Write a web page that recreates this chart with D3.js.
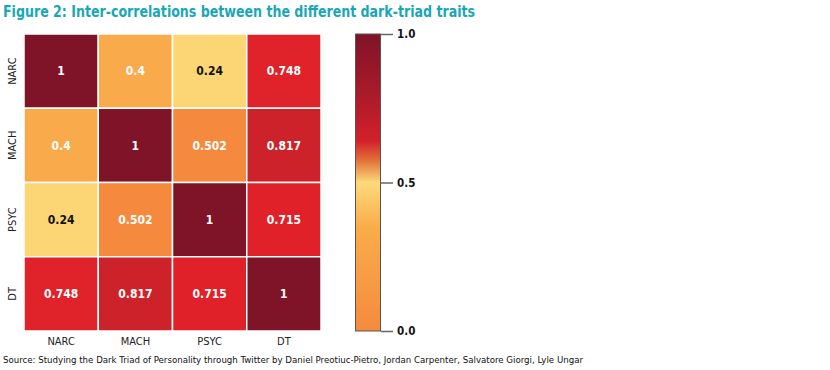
<!DOCTYPE html>
<html>
<head>
<meta charset="utf-8">
<script src="https://cdn.jsdelivr.net/npm/d3@7"></script>
<style>
  body { margin: 0; background: #fff; }
  svg text { font-family: "DejaVu Sans Condensed", "Roboto", sans-serif; }
</style>
</head>
<body>
<div id="chart"></div>
<script>
// Data
var traits = ["NARC", "MACH", "PSYC", "DT"];
var corrValues = [
    [1, 0.4, 0.24, 0.748],
    [0.4, 1, 0.502, 0.817],
    [0.24, 0.502, 1, 0.715],
    [0.748, 0.817, 0.715, 1]
];
var barTicks = [0.0, 0.5, 1.0];

var width = 830, height = 370;

var svg = d3.select("#chart")
    .append("svg")
    .attr("width", width)
    .attr("height", height);

// title
svg.append("text")
    .attr("x", 3)
    .attr("y", 17)
    .attr("fill", "#19a7b6")
    .attr("font-weight", "bold")
    .attr("font-size", 16)
    .attr("textLength", 472)
    .attr("lengthAdjust", "spacingAndGlyphs")
    .text("Figure 2: Inter-correlations between the different dark-triad traits");

// scales
var xScale = d3.scaleBand().domain(traits).range([24, 321]);
var yScale = d3.scaleBand().domain(traits).range([34, 331]);

var color = d3.scaleLinear()
    .domain([0.2, 0.4, 0.5, 0.7, 0.75, 0.82, 1])
    .range(["#fde07e", "#f9aa4a", "#f58b3e", "#e02129", "#e0222a", "#cc2229", "#7f1327"]);

// cells
var cells = [];
corrValues.forEach(function (row, i) {
    row.forEach(function (v, j) {
        cells.push({row: traits[i], col: traits[j], value: v});
    });
});

var cell = svg.append("g").selectAll("g")
    .data(cells)
    .enter().append("g");

cell.append("rect")
    .attr("x", d => xScale(d.col))
    .attr("y", d => yScale(d.row))
    .attr("width", xScale.bandwidth())
    .attr("height", yScale.bandwidth())
    .attr("fill", d => color(d.value))
    .attr("stroke", "#fff")
    .attr("stroke-width", 1.5);

cell.append("text")
    .attr("x", d => xScale(d.col) + xScale.bandwidth() / 2)
    .attr("y", d => yScale(d.row) + yScale.bandwidth() / 2)
    .attr("dy", "0.35em")
    .attr("text-anchor", "middle")
    .attr("font-size", 12)
    .attr("font-weight", "bold")
    .attr("fill", d => d.value < 0.3 ? "#111" : "#fff")
    .text(d => d.value);

// x-axis labels
var xAxis = svg.append("g")
    .attr("transform", "translate(0,331)")
    .call(d3.axisBottom(xScale).tickSize(0).tickPadding(6));
xAxis.select(".domain").remove();
xAxis.selectAll("text")
    .attr("font-size", 11)
    .attr("fill", "#222")
    .style("font-family", "\"DejaVu Sans Condensed\", sans-serif");

// y-axis labels (rotated)
svg.append("g").selectAll("text")
    .data(traits)
    .enter().append("text")
    .attr("transform", d => "translate(16," + (yScale(d) + yScale.bandwidth() / 2) + ") rotate(-90)")
    .attr("text-anchor", "middle")
    .attr("font-size", 11)
    .attr("fill", "#222")
    .text(d => d);

// colorbar
var barScale = d3.scaleLinear().domain([0, 1]).range([331, 34]);
var defs = svg.append("defs");
var grad = defs.append("linearGradient")
    .attr("id", "cbar")
    .attr("x1", 0).attr("y1", 1)
    .attr("x2", 0).attr("y2", 0);
var barStops = [
    [0.0, "#f58a3e"],
    [0.35, "#faac4a"],
    [0.5, "#fdda7c"],
    [0.57, "#e4763c"],
    [0.64, "#d2202a"],
    [0.8, "#aa1a29"],
    [1.0, "#7f1327"]
];
grad.selectAll("stop")
    .data(barStops)
    .enter().append("stop")
    .attr("offset", d => d[0] * 100 + "%")
    .attr("stop-color", d => d[1]);

svg.append("rect")
    .attr("x", 355.5)
    .attr("y", barScale(1))
    .attr("width", 25)
    .attr("height", barScale(0) - barScale(1))
    .attr("fill", "url(#cbar)")
    .attr("stroke", "#555")
    .attr("stroke-width", 1);

var barAxis = svg.append("g")
    .attr("transform", "translate(381,0)")
    .call(d3.axisRight(barScale).tickValues(barTicks).tickFormat(d3.format(".1f")).tickSize(12).tickPadding(4));
barAxis.select(".domain").remove();
barAxis.selectAll("line").attr("stroke", "#666").attr("stroke-width", 1.5);
barAxis.selectAll("text")
    .attr("font-size", 11.5)
    .attr("font-weight", "bold")
    .attr("fill", "#111")
    .style("font-family", "\"DejaVu Sans Condensed\", sans-serif");

// source
svg.append("text")
    .attr("x", 3)
    .attr("y", 363)
    .attr("font-size", 9.5)
    .attr("fill", "#111")
    .attr("textLength", 580)
    .attr("lengthAdjust", "spacingAndGlyphs")
    .text("Source: Studying the Dark Triad of Personality through Twitter by Daniel Preotiuc-Pietro, Jordan Carpenter, Salvatore Giorgi, Lyle Ungar");
</script>
</body>
</html>
